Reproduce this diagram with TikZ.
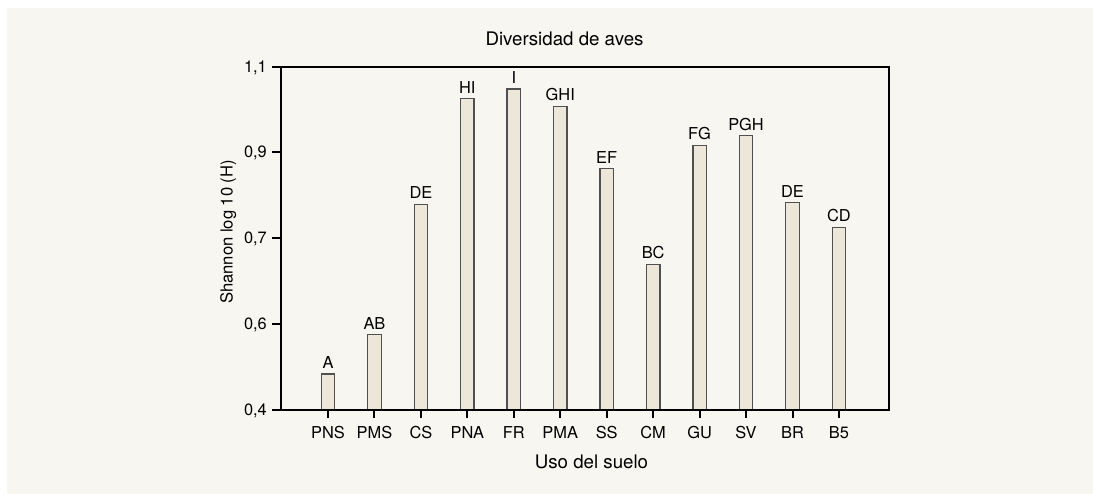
\documentclass[tikz,border=0pt]{standalone}
\usepackage{fontspec}
\setmainfont{TeX Gyre Heros}
\definecolor{panelbg}{HTML}{F7F6F1}
\definecolor{barfill}{HTML}{ECE7D9}
\definecolor{barline}{HTML}{505050}
\begin{document}
\begin{tikzpicture}[x=1pt,y=-1pt,
  barbox/.style={draw=barline,fill=barfill,line width=1.3pt},
  axisline/.style={draw=black,line width=2pt},
  tickline/.style={draw=black,line width=2pt},
  barlab/.style={anchor=base,inner sep=0pt,font=\fontsize{16.4}{18}\selectfont},
  catlab/.style={anchor=base,inner sep=0pt,font=\fontsize{16.4}{18}\selectfont},
  ylab/.style={anchor=base east,inner sep=0pt,font=\fontsize{16.4}{18}\selectfont},
  titlelab/.style={anchor=base,inner sep=0pt,font=\fontsize{18.7}{20}\selectfont}]
\useasboundingbox (0,0) rectangle (1093,498);
\fill[white] (0,0) rectangle (1093,498);
\fill[panelbg] (7,8) rectangle (1093,494);
% bars
\foreach \lab/\cat/\tp [count=\i from 0] in {A/PNS/374,AB/PMS/334.7,DE/CS/204.3,HI/PNA/98.7,I/FR/89,GHI/PMA/106.3,EF/SS/168.7,BC/CM/264.3,FG/GU/145.3,PGH/SV/135.7,DE/BR/202.7,CD/B5/227.3}{
  \pgfmathsetmacro\xx{328+\i*46.45}
  \draw[barbox] (\xx-6.7,410) rectangle (\xx+6.7,\tp);
  \node[barlab] (L\i) at (\xx,\tp-5.5) {\lab};
  \node[catlab] (C\i) at (\xx,438) {\cat};
  \draw[tickline] (\xx,410) -- (\xx,418);
}
% axes frame
\draw[axisline] (281,67) rectangle (889,410);
\foreach \yy/\t [count=\j] in {67/{1,1},152/{0,9},238/{0,7},324/{0,6},410/{0,4}}{
  \draw[tickline] (272,\yy) -- (281,\yy);
  \node[ylab] (Y\j) at (267,\yy+5.9) {\t};
}
\node[titlelab] (title) at (564.5,45) {Diversidad de aves};
\node[titlelab] (xtitle) at (591.5,468) {Uso del suelo};
\node[anchor=base,inner sep=0pt,rotate=90,font=\fontsize{16.6}{18}\selectfont] (ytitle) at (232.5,232) {Shannon log 10 (H)};
\end{tikzpicture}
\end{document}
